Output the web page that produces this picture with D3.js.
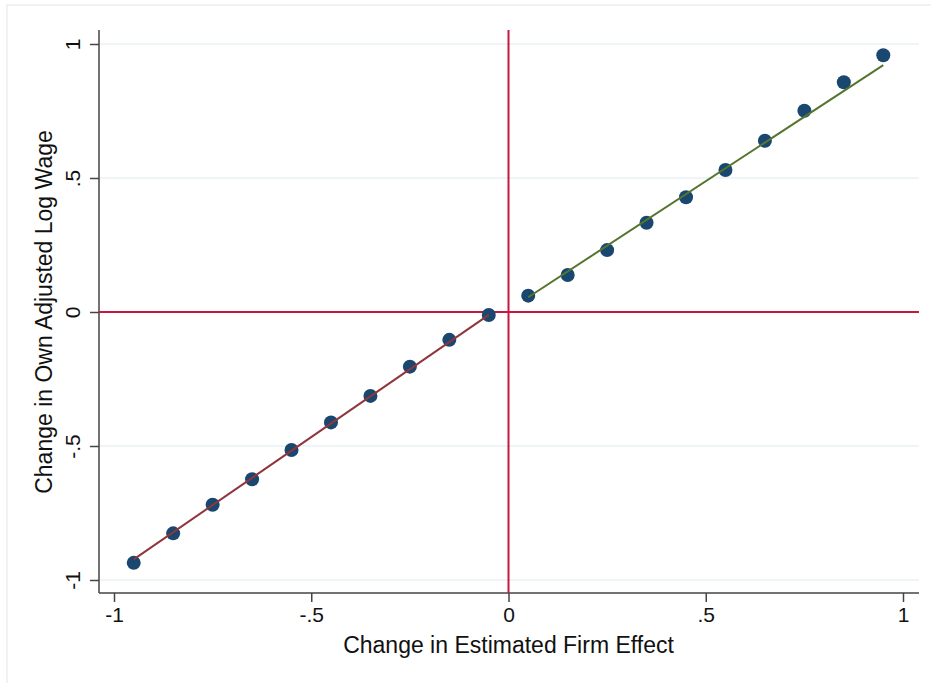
<!DOCTYPE html>
<html lang="en">
<head>
<meta charset="utf-8">
<title>Binned scatter</title>
<script src="https://cdn.jsdelivr.net/npm/d3@7"></script>
<style>
  body { margin: 0; background: #fff; }
  text { font-family: "Liberation Sans", Arial, sans-serif; fill: #111; }
</style>
</head>
<body>
<script>
// bin midpoints (x) and mean outcome (y)
var binX = [-0.95, -0.85, -0.75, -0.65, -0.55, -0.45, -0.35, -0.25, -0.15, -0.05,
            0.05, 0.15, 0.25, 0.35, 0.45, 0.55, 0.65, 0.75, 0.85, 0.95];
var binY = [-0.936, -0.826, -0.719, -0.624, -0.515, -0.412, -0.313, -0.204, -0.104, -0.011,
            0.061, 0.138, 0.231, 0.333, 0.428, 0.530, 0.639, 0.751, 0.857, 0.958];
// fitted lines, one each side of zero
var fitNeg = [[-0.95, -0.923], [-0.05, -0.011]];
var fitPos = [[0.05, 0.055], [0.95, 0.921]];
var xTicks = [-1, -0.5, 0, 0.5, 1];
var yTicks = [-1, -0.5, 0, 0.5, 1];
var xTitle = "Change in Estimated Firm Effect";
var yTitle = "Change in Own Adjusted Log Wage";

var w = 931, h = 683;
var svg = d3.select("body").append("svg").attr("width", w).attr("height", h);

// outer frame (only top and left show in the crop)
svg.append("rect")
   .attr("x", 7).attr("y", 5).attr("width", w + 20).attr("height", h + 20)
   .attr("fill", "none").attr("stroke", "#eef2f5").attr("stroke-width", 2);

var pLeft = 99, pRight = 919, pTop = 30, pBottom = 593;
var x = d3.scaleLinear().domain([-1, 1]).range([114, 903]);
var y = d3.scaleLinear().domain([-1, 1]).range([580, 44]);
// stata style labels: -1, -.5, 0, .5, 1
function fmt(v) { return v == 0 ? "0" : String(v).replace("0.", "."); }

// grid
svg.append("g").selectAll("line")
   .data(yTicks.filter(function(d) { return d != 0; }))
   .enter().append("line")
   .attr("x1", pLeft).attr("x2", pRight)
   .attr("y1", function(d) { return y(d); }).attr("y2", function(d) { return y(d); })
   .attr("stroke", "#eaf2f3").attr("stroke-width", 1.6);

// axes
var xAxis = d3.axisBottom(x).tickValues(xTicks).tickSize(9).tickPadding(5).tickFormat(fmt);
var gx = svg.append("g").attr("transform", "translate(0," + pBottom + ")").call(xAxis);
gx.select(".domain").attr("d", "M" + pLeft + ",0H" + pRight);
var yAxis = d3.axisLeft(y).tickValues(yTicks).tickSize(9).tickFormat(fmt);
var gy = svg.append("g").attr("transform", "translate(" + pLeft + ",0)").call(yAxis);
gy.select(".domain").attr("d", "M0," + pTop + "V" + pBottom);
[gx, gy].forEach(function(g) {
  g.attr("font-size", 21).attr("font-family", "Liberation Sans, Arial, sans-serif");
  g.selectAll(".domain, .tick line").attr("stroke", "#444").attr("stroke-width", 1.5);
  g.selectAll("text").attr("fill", "#111");
});
gy.selectAll(".tick text")
  .attr("x", null).attr("dy", null).attr("text-anchor", "middle")
  .attr("transform", "translate(-19,0) rotate(-90)");

// reference lines at zero
svg.append("line").attr("x1", pLeft).attr("x2", pRight).attr("y1", y(0)).attr("y2", y(0))
   .attr("stroke", "#c8173f").attr("stroke-width", 2);
svg.append("line").attr("x1", x(0)).attr("x2", x(0)).attr("y1", pTop).attr("y2", pBottom)
   .attr("stroke", "#c8173f").attr("stroke-width", 2);

// points
var pts = binX.map(function(v, i) { return { x: v, y: binY[i] }; });
svg.append("g").selectAll("circle").data(pts).enter().append("circle")
   .attr("cx", function(d) { return x(d.x); })
   .attr("cy", function(d) { return y(d.y); })
   .attr("r", 7).attr("fill", "#1a476f");

// fit lines
var line = d3.line().x(function(d) { return x(d[0]); }).y(function(d) { return y(d[1]); });
svg.append("path").attr("d", line(fitNeg)).attr("fill", "none")
   .attr("stroke", "#90353b").attr("stroke-width", 2);
svg.append("path").attr("d", line(fitPos)).attr("fill", "none")
   .attr("stroke", "#55752f").attr("stroke-width", 2);

// titles
svg.append("text").attr("x", x(0)).attr("y", 653).attr("text-anchor", "middle")
   .attr("font-size", 23).text(xTitle);
svg.append("text").attr("transform", "translate(52," + y(0) + ") rotate(-90)")
   .attr("text-anchor", "middle").attr("font-size", 23).text(yTitle);
</script>
</body>
</html>
